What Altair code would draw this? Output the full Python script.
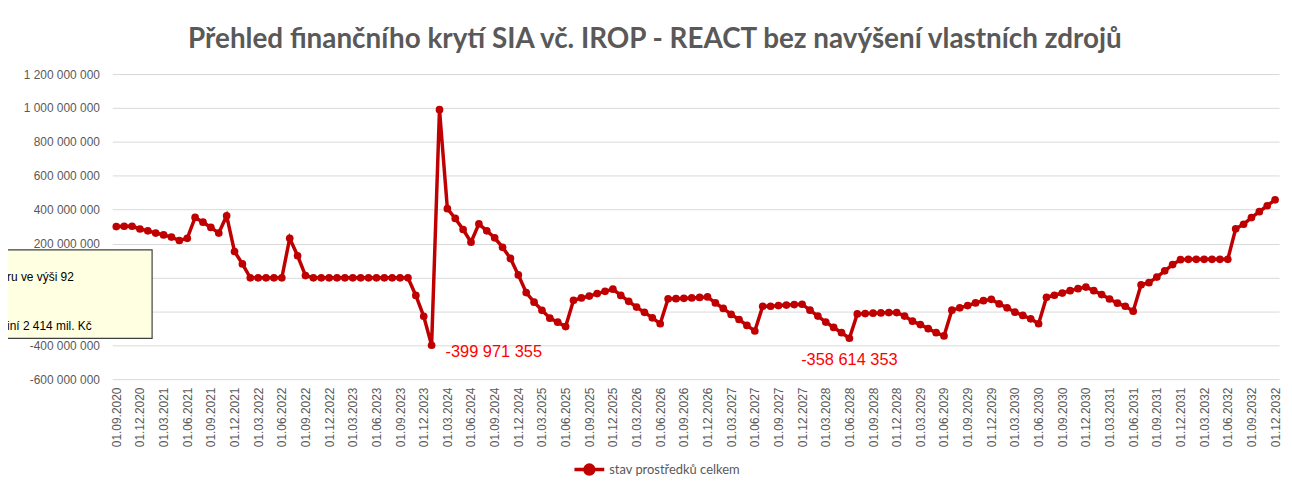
import altair as alt
import pandas as pd

TITLE = "Přehled finančního krytí SIA vč. IROP - REACT bez navýšení vlastních zdrojů"
SERIES = "stav prostředků celkem"
START_YEAR, START_MONTH = 2020, 9

# stav prostředků celkem, in millions of CZK, monthly from 01.09.2020
VALUES_MIL = [
    300, 302, 302, 286, 275, 262, 251, 238, 218, 231,
    354, 326, 295, 262, 364, 153, 80, -2, -2, -2,
    -2, -2, 231, 128, 11, -2, -2, -2, -2, -2,
    -2, -2, -2, -2, -2, -2, -2, -2, -106, -229,
    -399.971355, 990, 406, 348, 283, 208, 316, 275, 234, 178,
    112, 15, -89, -146, -194, -240, -264, -290, -135, -121,
    -110, -95, -82, -69, -106, -141, -175, -206, -238, -273,
    -126, -125, -123, -121, -118, -115, -150, -183, -218, -248,
    -283, -316, -170, -170, -166, -163, -160, -158, -193, -228,
    -263, -295, -326, -358.614353, -215, -213, -211, -209, -207, -207,
    -228, -258, -278, -302, -326, -345, -193, -179, -166, -150,
    -137, -129, -156, -179, -205, -224, -244, -273, -117, -105,
    -92, -78, -66, -57, -78, -101, -127, -152, -170, -199,
    -43, -31, 2, 39, 76, 105, 107, 107, 107, 107,
    107, 107, 287, 314, 353, 388, 423, 458,
]

Y_TICKS = [-600e6, -400e6, -200e6, 0, 200e6, 400e6, 600e6, 800e6, 1000e6, 1200e6]
ANNOT_LEFT = ["01.01.2024"]
ANNOT_BELOW = ["01.06.2028"]
NOTE_LINES = ["ru ve výši 92", "iní 2 414 mil. Kč"]

months = []
y, m = START_YEAR, START_MONTH
for _ in VALUES_MIL:
    months.append(f"01.{m:02d}.{y}")
    m += 1
    if m > 12:
        m = 1
        y += 1

df = pd.DataFrame({
    "datum_mesic": months,
    "hodnota": [round(v * 1e6) for v in VALUES_MIL],
    "serie": [SERIES] * len(VALUES_MIL),
})

RED = "#C00000"
GRAY = "#595959"
fmt = "replace(replace(format(datum.value, ','), /,/g, ' '), /\u2212/g, '-')"
label_fmt = "replace(replace(format(datum.hodnota, ','), /,/g, ' '), /\u2212/g, '-')"

x_enc = alt.X(
    "datum_mesic:O",
    sort=months,
    scale=alt.Scale(type="point", padding=0.5),
    axis=alt.Axis(
        title=None, values=months[::3], labelAngle=-90, labelFontSize=12,
        labelFont="Liberation Sans", labelColor=GRAY, ticks=False, domain=False,
        grid=False, labelPadding=8, labelOverlap=False,
    ),
)
y_enc = alt.Y(
    "hodnota:Q",
    scale=alt.Scale(domain=[-600e6, 1200e6], nice=False, zero=False),
    axis=alt.Axis(
        title=None, values=Y_TICKS, tickCount=20, labelExpr=fmt, labelFontSize=12,
        labelFont="Liberation Sans", labelColor=GRAY, ticks=False, domain=False,
        gridColor="#D9D9D9", gridWidth=1, labelPadding=13, labelOverlap=False,
    ),
)

base = alt.Chart(df)

line = base.mark_line(
    strokeWidth=3.5,
    point=alt.OverlayMarkDef(size=60, filled=True, color=RED, opacity=1),
).encode(
    x=x_enc,
    y=y_enc,
    color=alt.Color(
        "serie:N",
        scale=alt.Scale(range=[RED]),
        legend=alt.Legend(
            title=None, orient="none", legendX=463, legendY=381,
            symbolType="M -1 0 L 1 0 M -0.3 0 A 0.3 0.3 0 1 0 0.3 0 A 0.3 0.3 0 1 0 -0.3 0",
            symbolSize=900, symbolStrokeWidth=3.5, symbolFillColor=RED,
            symbolStrokeColor=RED, labelFont="Lato", labelFontSize=13,
            labelColor=GRAY, labelOffset=3,
        ),
    ),
)

ann_left = base.transform_filter(
    alt.FieldOneOfPredicate(field="datum_mesic", oneOf=ANNOT_LEFT)
).transform_calculate(lbl=label_fmt).mark_text(
    align="left", baseline="middle", dx=14, dy=7, color="#FF0000",
    fontSize=16.5, font="Liberation Sans",
).encode(x=alt.X("datum_mesic:O", sort=months), y="hodnota:Q", text="lbl:N")

ann_below = base.transform_filter(
    alt.FieldOneOfPredicate(field="datum_mesic", oneOf=ANNOT_BELOW)
).transform_calculate(lbl=label_fmt).mark_text(
    align="center", baseline="middle", dx=0, dy=22, color="#FF0000",
    fontSize=16.5, font="Liberation Sans",
).encode(x=alt.X("datum_mesic:O", sort=months), y="hodnota:Q", text="lbl:N")

note_box = alt.Chart(alt.Data(values=[{"n": 1}])).mark_rect(
    fill="#FFFFE1", stroke="#404040", strokeWidth=1.2
).encode(x=alt.value(-115), x2=alt.value(40), y=alt.value(177), y2=alt.value(266))

note_1 = alt.Chart(alt.Data(values=[{"t": NOTE_LINES[0]}])).mark_text(
    align="left", baseline="middle", fontSize=12, font="Liberation Sans", color="#000000"
).encode(x=alt.value(-106), y=alt.value(204), text="t:N")

note_2 = alt.Chart(alt.Data(values=[{"t": NOTE_LINES[1]}])).mark_text(
    align="left", baseline="middle", fontSize=12, font="Liberation Sans", color="#000000"
).encode(x=alt.value(-106), y=alt.value(254), text="t:N")

chart = alt.layer(
    line, note_box, note_1, note_2, ann_left, ann_below
).properties(
    width=1174,
    height=307,
    autosize=alt.AutoSizeParams(type="none"),
    padding={"left": 105, "top": 65, "right": 5, "bottom": 99},
    title=alt.TitleParams(
        text=TITLE, font="Lato", fontSize=28, fontWeight="bold", color=GRAY,
        anchor="middle", dx=-41, offset=14,
    ),
).configure(background="white").configure_view(stroke="transparent")

chart.save("out.html", embed_options={"renderer": "svg", "actions": False})
